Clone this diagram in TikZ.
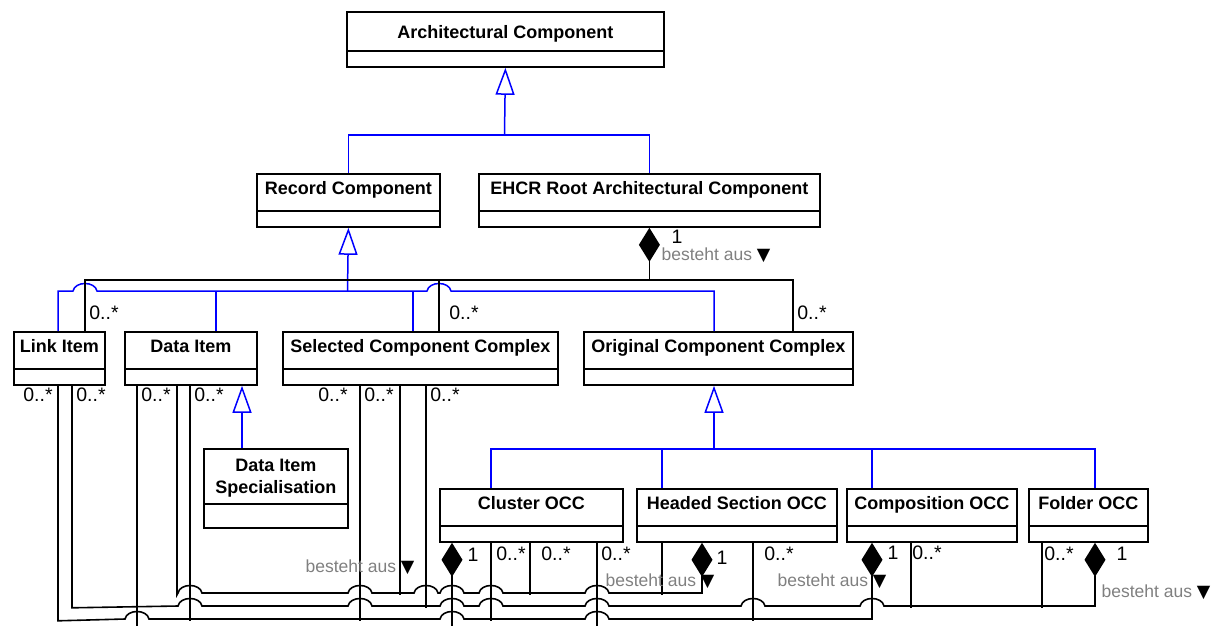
\documentclass[tikz,border=0pt]{standalone}
\usepackage{fontspec}
\setmainfont{Liberation Sans}
\newfontfamily\symfont{DejaVu Sans}
\usetikzlibrary{arrows.meta}

\definecolor{umlblue}{RGB}{0,0,255}
\definecolor{rolegray}{RGB}{128,128,128}
\newcommand{\tri}{{\color{black}\symfont ▼}}

\tikzset{
  cls/.style={draw, line width=1.8pt, inner sep=0pt, anchor=north west,
    font=\fontsize{18}{22}\selectfont\bfseries,
    minimum height=53pt, text height=21pt, text depth=32pt,
    path picture={\draw[line width=1.8pt]
      ([yshift=#1]path picture bounding box.south west) --
      ([yshift=#1]path picture bounding box.south east);}},
  cls/.default=16pt,
  assoc/.style={line width=1.6pt},
  genl/.style={umlblue, line width=1.5pt},
  gen/.style={genl, -{Triangle[open, length=27pt, width=19pt, fill=white]}},
  diam/.tip={Diamond[length=34pt, width=21pt]},
  mult/.style={inner sep=0pt, font=\fontsize{19.5}{22}\selectfont},
  role/.style={inner sep=0pt, text=rolegray, font=\fontsize{17.5}{20}\selectfont},
}

\begin{document}
\begin{tikzpicture}[x=1pt, y=-1pt]
\useasboundingbox (0,0) rectangle (1216,625);

% classes
\node[cls, minimum width=317pt, minimum height=55pt, text height=27pt, text depth=28pt] (ac) at (346,11) {Architectural Component};
\node[cls, minimum width=183pt] (rc) at (256,173) {Record Component};
\node[cls, minimum width=341pt] (ehcr) at (478,173) {EHCR Root Architectural Component};
\node[cls, minimum width=91pt] (link) at (13,331) {Link Item};
\node[cls, minimum width=132pt] (data) at (124,331) {Data Item};
\node[cls, minimum width=275pt] (scc) at (282,331) {Selected Component Complex};
\node[cls, minimum width=269pt] (occ) at (583,331) {Original Component Complex};
\node[cls=24pt, minimum width=144pt, minimum height=79pt, text height=22.5pt, text depth=56.5pt] (dis) at (203,448)
  {\begin{tabular}[t]{@{}c@{}}Data Item\\Specialisation\end{tabular}};
\node[cls, minimum width=183pt] (cluster) at (439,488) {Cluster OCC};
\node[cls, minimum width=200pt] (headed) at (636,488) {Headed Section OCC};
\node[cls, minimum width=170pt] (comp) at (846,488) {Composition OCC};
\node[cls, minimum width=119pt] (folder) at (1028,488) {Folder OCC};

% generalisations
\coordinate (g0) at (504.5,135);
\coordinate (g1) at (347.5,291);
\coordinate (g2) at (714,449);
\draw[genl] (rc.north) |- (g0) -| (ehcr.north);
\draw[gen] (g0) -- (ac.south);
\draw[genl] ([xshift=45pt]link.north west) -- ++(0,-40)
  foreach \x in {85,439} { -- (\x-12,291) .. controls (\x-10,281) and (\x+10,281) .. (\x+12,291) }
  -| ([xshift=131pt]occ.north west);
\draw[genl] ([xshift=92pt]data.north west) -- ++(0,-40);
\draw[genl] ([xshift=131pt]scc.north west) -- ++(0,-40);
\draw[gen] (g1) -- (rc.south);
\draw[gen] ([xshift=39pt]dis.north west) -- ([xshift=118pt]data.south west);
\draw[genl] ([xshift=52pt]cluster.north west) -- ++(0,-39) -| ([xshift=67pt]folder.north west);
\draw[genl] ([xshift=26pt]headed.north west) -- ++(0,-39);
\draw[genl] ([xshift=26pt]comp.north west) -- ++(0,-39);
\draw[gen] (g2) -- ([xshift=131pt]occ.south west);

% compositions
\draw[assoc, {diam}-] (ehcr.south) -- ++(0,52) -| ([xshift=72pt]link.north west);
\draw[assoc] (ehcr.south) ++(0,52) -| ([xshift=157pt]scc.north west);
\draw[assoc] (ehcr.south) ++(0,52) -| ([xshift=210pt]occ.north west);

\draw[assoc, -{diam}] ([xshift=45pt]link.south west) -- ++(0,235)
  foreach \x in {137,452,597} { -- (\x-12,619) .. controls (\x-10,609) and (\x+10,609) .. (\x+12,619) }
  -| ([xshift=26pt]comp.south west);
\draw[assoc, -{diam}] ([xshift=59pt]link.south west) -- ++(0,222)
  foreach \x in {190,360,452,491,597,753,872} { -- (\x-12,606) .. controls (\x-10,596) and (\x+10,596) .. (\x+12,606) }
  -| ([xshift=67pt]folder.south west);
\draw[assoc, -{diam}] ([xshift=53pt]data.south west) -- ++(0,209)
  foreach \x in {190,360,426,452,491,597} { -- (\x-12,593) .. controls (\x-10,583) and (\x+10,583) .. (\x+12,593) }
  -| ([xshift=66pt]headed.south west);
\draw[assoc, {diam}-] ([xshift=13pt]cluster.south west) -- ++(0,84);
\foreach \n/\dx/\dy in {data/13/241, data/66/235, scc/78/235, scc/118/209, scc/144/222,
    cluster/52/78, cluster/91/52, cluster/158/84, headed/26/52, headed/117/78,
    comp/65/65, folder/14/65}
  \draw[assoc] ([xshift=\dx pt]\n.south west) -- ++(0,\dy);

% labels
\foreach \x/\y [count=\i] in {104/313, 464/313, 812/313, 38/395, 91/395, 156/395, 209/395,
    333/395, 379/395, 445/395, 511/554, 556/554, 616/554, 779/554, 927/553, 1059/554}
  \node[mult] (m\i) at (\x,\y) {0..*};
\foreach \x/\y [count=\i] in {677/237, 473/555, 722/558, 893/553, 1122/554}
  \node[mult] (one\i) at (\x,\y) {1};
\foreach \x/\y [count=\i] in {716/255, 360/567, 660/581, 832/581, 1156/592}
  \node[role] (r\i) at (\x,\y) {besteht aus \tri};
\end{tikzpicture}
\end{document}
